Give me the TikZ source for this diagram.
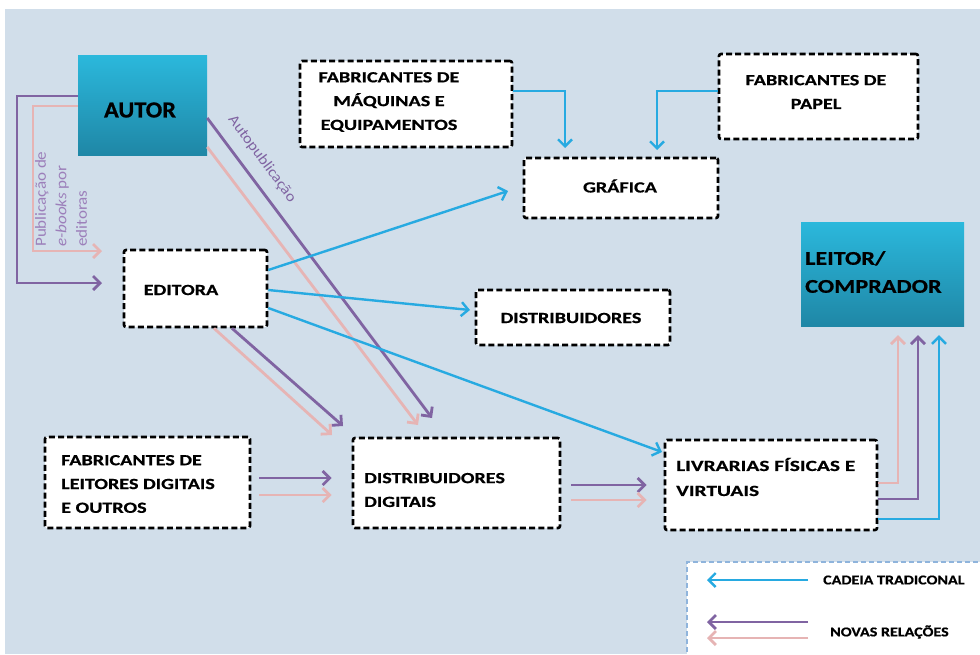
\documentclass[tikz,border=0pt]{standalone}
\usepackage{fontspec}
\setmainfont{Carlito}
\newfontfamily\fboxtxt[FakeStretch=1.3,FakeBold=0.6]{Carlito}
\newfontfamily\flivr[FakeStretch=1.38,FakeBold=0.6]{Carlito}
\newfontfamily\fleit[FakeStretch=1.24,FakeBold=0.6]{Carlito}
\newfontfamily\fleg[FakeStretch=1.19,FakeBold=0.6]{Carlito}
\newfontfamily\faut[FakeStretch=1.06,FakeBold=0.6]{Carlito}
\newfontfamily\fpub[FakeStretch=1.1]{Carlito}
\usetikzlibrary{arrows.meta}
\definecolor{bgblue}{HTML}{D1DEEA}
\definecolor{lnblue}{HTML}{27AAE1}
\definecolor{lnpurple}{HTML}{8064A2}
\definecolor{lnpink}{HTML}{E6B4B4}
\definecolor{lblmauve}{HTML}{9C7FBA}
\definecolor{autortop}{HTML}{2BB8DC}
\definecolor{autorbot}{HTML}{1F87A6}
\definecolor{legborder}{HTML}{8FB4DC}
\tikzset{
  dbox/.style={draw=black, fill=white, line width=2.6pt, dash pattern=on 6pt off 3.2pt, rounded corners=2pt, inner sep=0pt},
  cbox/.style={top color=autortop, bottom color=autorbot, inner sep=0pt},
  btxt/.style={font=\fboxtxt\fontsize{15.5}{23.8}\selectfont\bfseries, inner sep=0pt, text=black},
  tipb/.style={-{Straight Barb[length=7pt,width=14pt]}},
  bluearrow/.style={draw=lnblue, line width=2.4pt, tipb},
  purplearrow/.style={draw=lnpurple, line width=2.8pt, tipb},
  pinkarrow/.style={draw=lnpink, line width=2.8pt, tipb},
}
\begin{document}
\begin{tikzpicture}[x=1pt,y=-1pt]
\useasboundingbox (0,0) rectangle (980,654);
\fill[white] (0,0) rectangle (980,654);
\fill[bgblue] (5,9) rectangle (980,654);

% coloured boxes
\node[cbox, minimum width=129pt, minimum height=100pt] (autor) at (142.5,105) {};
\node[btxt, font=\faut\fontsize{23}{26}\selectfont\bfseries] (autorT) at (140,110) {AUTOR};
\node[cbox, minimum width=163pt, minimum height=104pt] (leitor) at (882.5,274) {};
\node[btxt, font=\fleit\fontsize{19.5}{28}\selectfont\bfseries, align=left, anchor=west] (leitorT) at (805,272) {LEITOR/\\COMPRADOR};

% dashed boxes
\node[dbox, minimum width=212pt, minimum height=86pt] (maq) at (406,104) {};
\node[btxt, align=center] (maqT) at (389,102) {FABRICANTES DE\\MÁQUINAS E\\EQUIPAMENTOS};
\node[dbox, minimum width=199pt, minimum height=85pt] (papel) at (818.5,96.5) {};
\node[btxt, align=center] (papelT) at (816,92) {FABRICANTES DE\\PAPEL};
\node[dbox, minimum width=194pt, minimum height=60pt] (grafica) at (621,188) {};
\node[btxt] (graficaT) at (620,186) {GRÁFICA};
\node[dbox, minimum width=143pt, minimum height=77pt] (editora) at (195.5,288.5) {};
\node[btxt] (editoraT) at (181,290) {EDITORA};
\node[dbox, minimum width=194pt, minimum height=55pt] (distrib) at (573,317.5) {};
\node[btxt] (distribT) at (571,318) {DISTRIBUIDORES};
\node[dbox, minimum width=205pt, minimum height=91pt] (fableit) at (147.5,482.5) {};
\node[btxt, align=left, anchor=west] (fableitT) at (61,484) {FABRICANTES DE\\LEITORES DIGITAIS\\E OUTROS};
\node[dbox, minimum width=207pt, minimum height=90pt] (distdig) at (456.5,483) {};
\node[btxt, align=left, anchor=west] (distdigT) at (364,490) {DISTRIBUIDORES\\DIGITAIS};
\node[dbox, minimum width=212pt, minimum height=90pt] (livr) at (771,485) {};
\node[btxt, font=\flivr\fontsize{15.5}{25}\selectfont\bfseries, align=left, anchor=west] (livrT) at (676,477) {LIVRARIAS FÍSICAS E\\VIRTUAIS};

% free arrow ends
\coordinate (edP) at (102,283);
\coordinate (edK) at (102,251);
\coordinate (apP) at (432,418);
\coordinate (apK) at (418,425);
\coordinate (ddP) at (343,426);
\coordinate (ddK) at (332,435);
\coordinate (grE) at (508,191);
\coordinate (diE) at (470,310);
\coordinate (liE) at (662,452);

% Autor -> Editora
\draw[purplearrow] (autor.west |- 0,96) -- (17,96) -- (17,283) -- (edP);
\draw[pinkarrow] (autor.west |- 0,106) -- (33,106) -- (33,251) -- (edK);
\node[font=\fpub\fontsize{15.5}{20.5}\selectfont, text=lblmauve, rotate=90, align=left, anchor=north west, inner sep=0pt] (pubT) at (35,247) {Publicação de\\\textit{e-books} por\\editoras};

% Autopublicacao
\draw[purplearrow] (autor.east |- 0,118) -- (apP);
\draw[pinkarrow] (autor.east |- 0,147) -- (apK);
\node[font=\fpub\fontsize{15}{16}\selectfont, text=lnpurple, rotate=-53.6, inner sep=0pt] (autopubT) at (262,159) {Autopublicação};

% Editora -> Distribuidores digitais
\draw[purplearrow] (editora.south -| 232,0) -- (ddP);
\draw[pinkarrow] (editora.south -| 214,0) -- (ddK);

% Editora -> blue chain
\draw[bluearrow] (editora.east |- 0,270) -- (grE);
\draw[bluearrow] (editora.east |- 0,290) -- (diE);
\draw[bluearrow] (editora.east |- 0,308) -- (liE);

% suppliers -> Grafica
\draw[bluearrow] (maq.east |- 0,91) -| (565,148);
\draw[bluearrow] (papel.west |- 0,91) -| (657,150);

% fabricantes leitores -> distrib digitais
\draw[purplearrow, shorten <=8pt, shorten >=20pt] (fableit.east |- 0,478) -- (distdig.west |- 0,478);
\draw[pinkarrow, shorten <=8pt, shorten >=20pt] (fableit.east |- 0,495) -- (distdig.west |- 0,495);
% distrib digitais -> livrarias
\draw[purplearrow, shorten <=10pt, shorten >=17pt] (distdig.east |- 0,485) -- (livr.west |- 0,485);
\draw[pinkarrow, shorten <=10pt, shorten >=17pt] (distdig.east |- 0,500) -- (livr.west |- 0,500);

% livrarias -> leitor
\draw[pinkarrow, shorten >=9pt] (livr.east |- 0,483) -| (leitor.south -| 898,0);
\draw[purplearrow, shorten >=9pt] (livr.east |- 0,499) -| (leitor.south -| 918,0);
\draw[bluearrow, shorten >=9pt] (livr.east |- 0,519) -| (leitor.south -| 939,0);

% legend
\fill[white] (687,562) rectangle (985,660);
\draw[legborder, line width=1.6pt, dash pattern=on 5pt off 3pt] (687,660) -- (687,562) -- (985,562);
\coordinate (lgB1) at (808,580);
\coordinate (lgB2) at (707,580);
\coordinate (lgP1) at (808,622);
\coordinate (lgP2) at (707,622);
\coordinate (lgK1) at (808,638);
\coordinate (lgK2) at (707,638);
\draw[bluearrow] (lgB1) -- (lgB2);
\draw[purplearrow] (lgP1) -- (lgP2);
\draw[pinkarrow] (lgK1) -- (lgK2);
\node[btxt, font=\fleg\fontsize{13.5}{16}\selectfont\bfseries, anchor=west] (lgT1) at (823,580) {CADEIA TRADICONAL};
\node[btxt, font=\fleg\fontsize{13.5}{16}\selectfont\bfseries, anchor=west] (lgT2) at (830,632) {NOVAS RELAÇÕES};
\end{tikzpicture}
\end{document}
